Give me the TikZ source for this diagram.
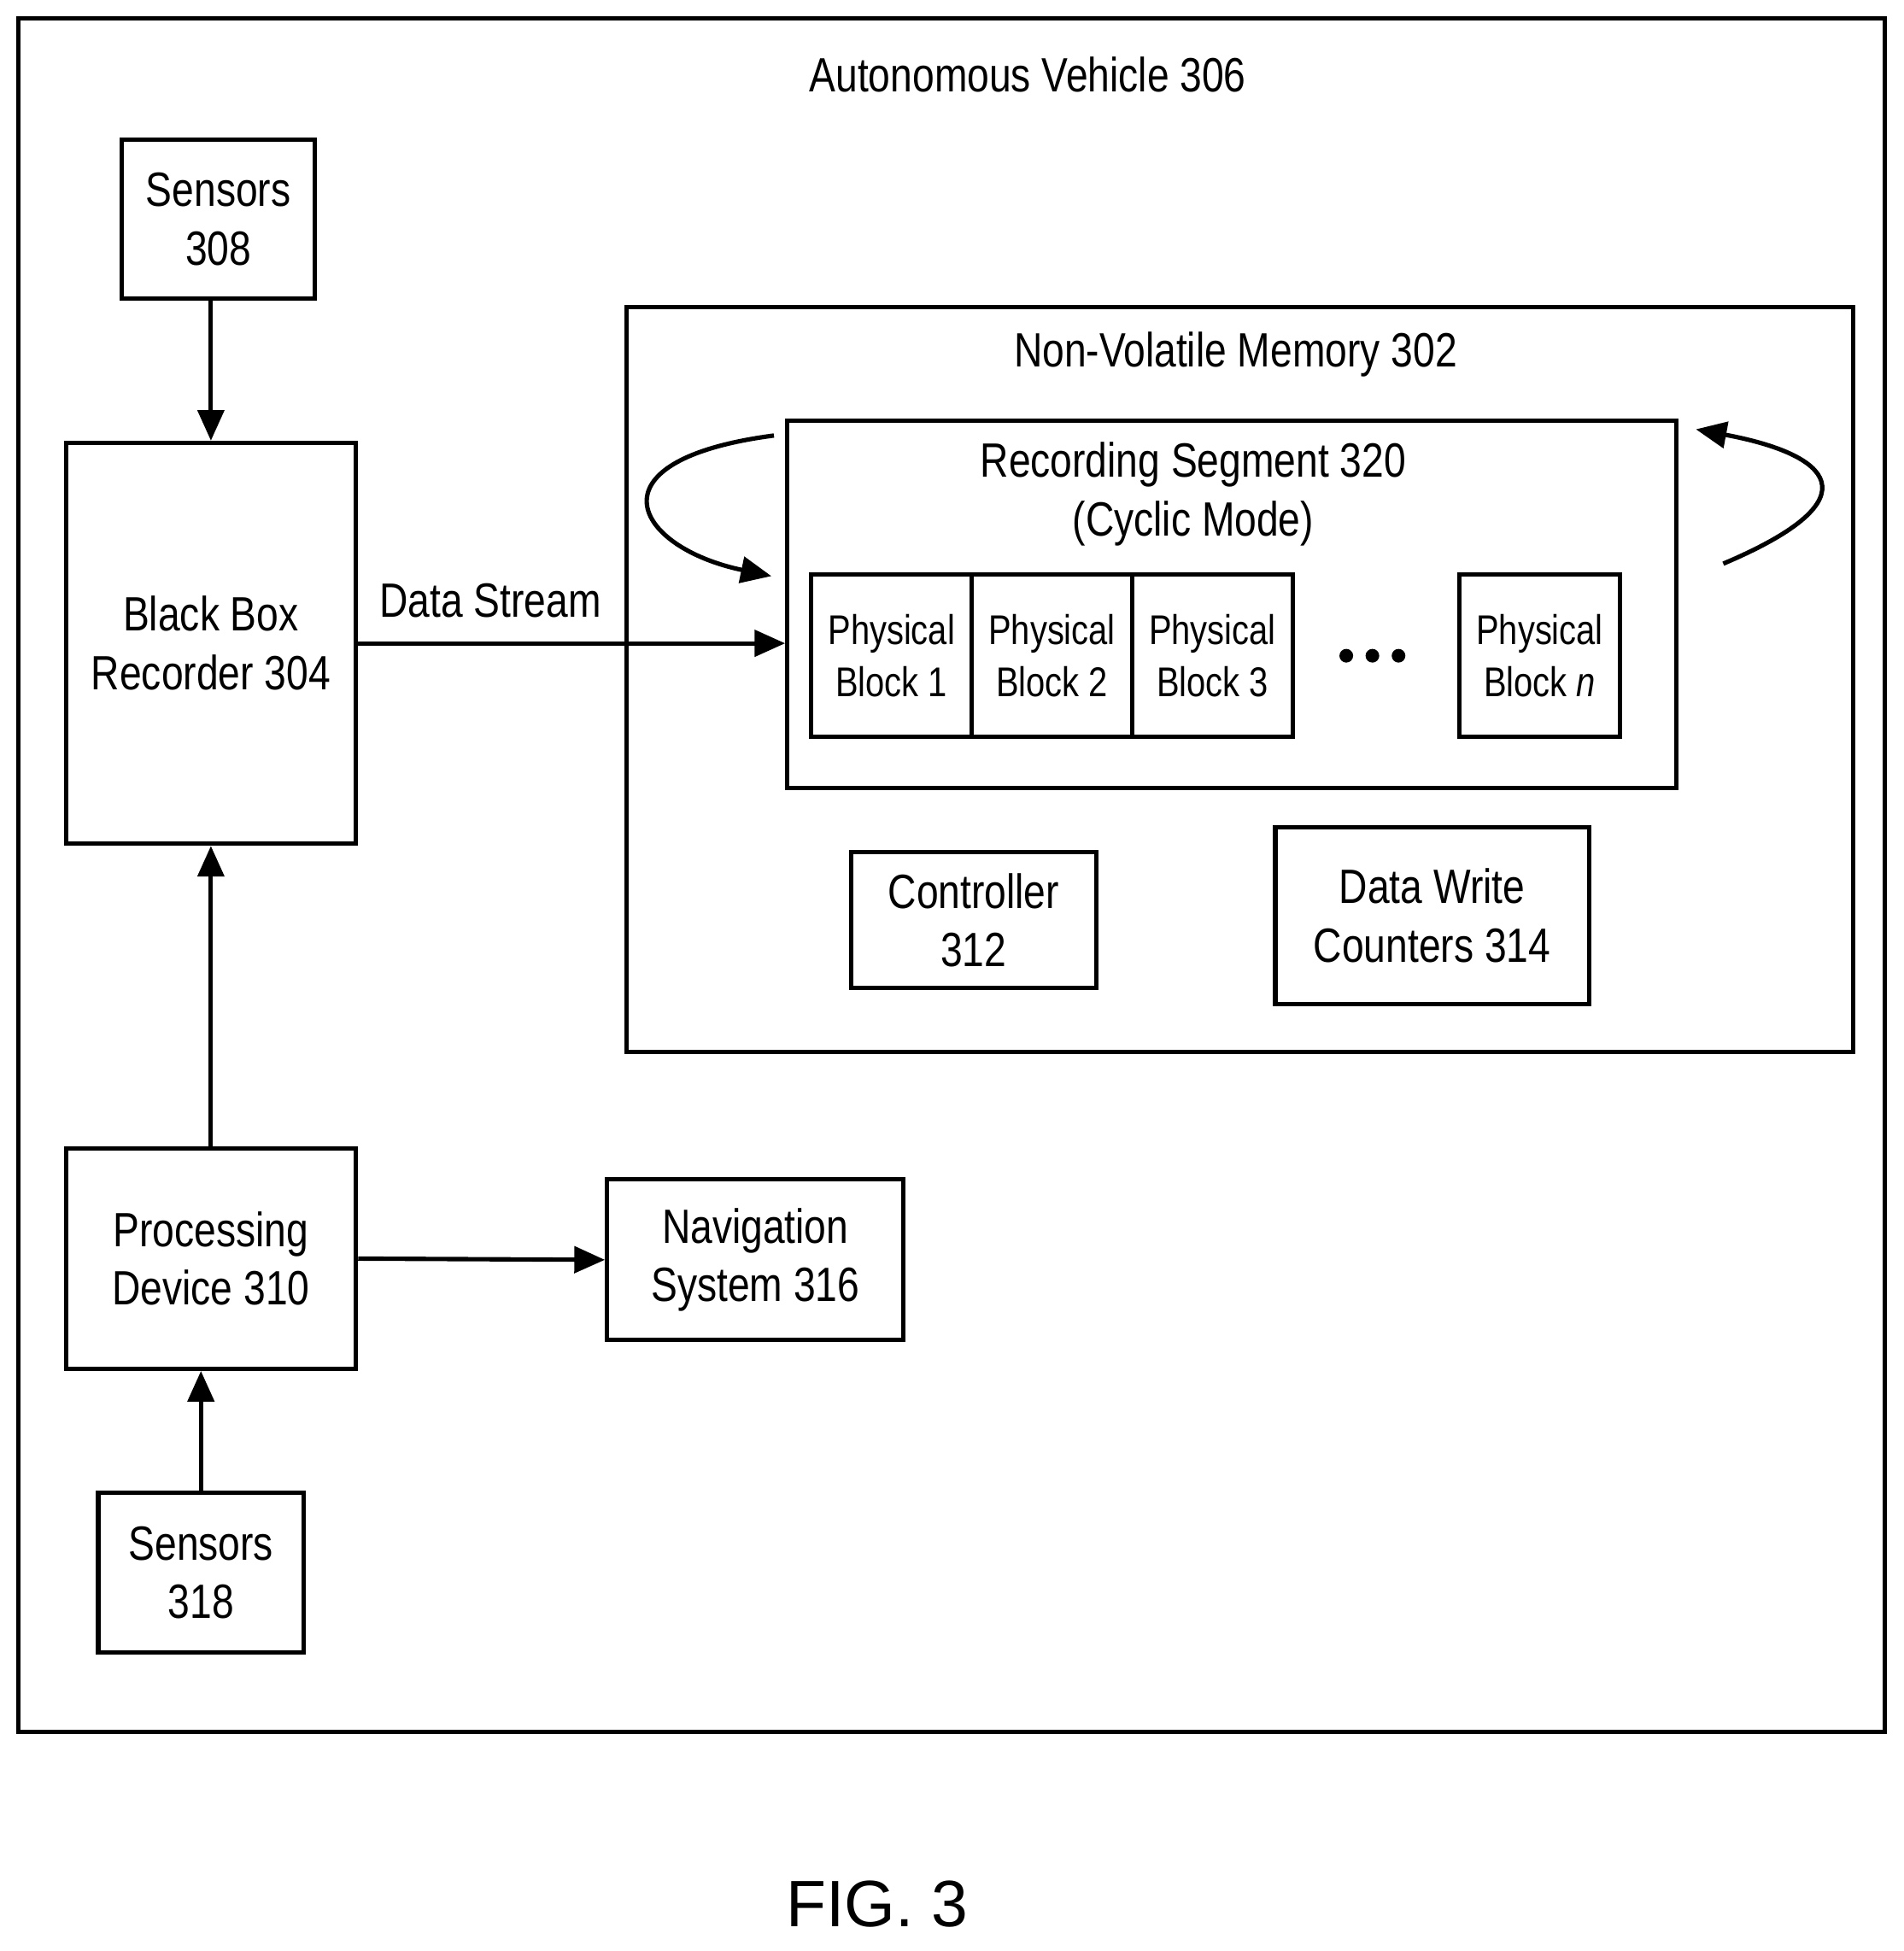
\documentclass[tikz,border=0pt]{standalone}
\usepackage{fontspec}
\setmainfont[FakeStretch=0.82]{Liberation Sans}
\newfontfamily\figfont{Liberation Sans}
\usetikzlibrary{arrows.meta}
\begin{document}
\begin{tikzpicture}[x=0.01cm,y=-0.01cm,line width=1pt,
  box/.style={draw,align=center,inner sep=0pt,font=\fontsize{11}{13.4}\selectfont},
  blk/.style={draw,align=center,inner sep=0pt,minimum width=1.29cm,minimum height=1.30cm,font=\fontsize{9.5}{12}\selectfont},
  arr/.style={-{Triangle[length=7pt,width=6pt]}}]
\useasboundingbox (0,0) rectangle (1530,1568);
\draw (15,15) rectangle (1515,1392);
\node[font=\fontsize{11}{13.4}\selectfont] (avtitle) at (826,60) {Autonomous Vehicle 306};
% left column
\node[box,minimum width=1.55cm,minimum height=1.28cm] (sens308) at (175.5,176) {Sensors\\308};
\node[box,minimum width=2.33cm,minimum height=3.22cm] (bbr) at (169.5,517) {Black Box\\Recorder 304};
\node[box,minimum width=2.33cm,minimum height=1.77cm] (proc) at (169.5,1011.5) {Processing\\Device 310};
\node[box,minimum width=1.65cm,minimum height=1.28cm] (sens318) at (161.5,1264) {Sensors\\318};
\node[box,minimum width=2.38cm,minimum height=1.29cm] (nav) at (607,1012.5) {Navigation\\System 316};
% memory
\node[box,minimum width=9.85cm,minimum height=5.98cm] (nvm) at (996.5,546) {};
\node[font=\fontsize{11}{13.4}\selectfont] (nvmtitle) at (993,285) {Non-Volatile Memory 302};
\node[box,minimum width=7.14cm,minimum height=2.95cm] (rec) at (990,485.5) {};
\node[align=center,font=\fontsize{11}{13.4}\selectfont] (rectitle) at (959,397) {Recording Segment 320\\(Cyclic Mode)};
\node[blk] (pb1) at (716.5,527) {Physical\\Block 1};
\node[blk] (pb2) at (845.5,527) {Physical\\Block 2};
\node[blk] (pb3) at (974.5,527) {Physical\\Block 3};
\node[blk] (pbn) at (1237.5,527) {Physical\\Block \textit{n}};
\foreach \xc in {1082,1103,1124} \fill (\xc,527) circle (5.5);
\node[box,minimum width=1.97cm,minimum height=1.09cm] (ctrl) at (782.5,739.5) {Controller\\312};
\node[box,minimum width=2.52cm,minimum height=1.42cm] (dwc) at (1151,736) {Data Write\\Counters 314};
% connectors
\draw[arr] (bbr.north |- sens308.south) to (bbr.north);
\draw[arr] (proc.north) to (bbr.south);
\draw[arr] (sens318.north) to (sens318.north |- proc.south);
\draw[arr] (proc.east) to (nav.west);
\draw[arr] (bbr.east) to node[pos=0.31,above=2pt,font=\fontsize{11}{13.4}\selectfont] {Data Stream} (rec.west |- bbr.east);
\coordinate (lstart) at (622,350);
\coordinate (lend) at (620,463);
\coordinate (rstart) at (1385,453);
\coordinate (rend) at (1363,345);
\draw[arr] (lstart) .. controls (470,370) and (510,440) .. (lend);
\draw[arr] (rstart) .. controls (1510,400) and (1470,365) .. (rend);
\node[font=\figfont\fontsize{15}{18}\selectfont] (fig) at (705,1530) {FIG. 3};
\end{tikzpicture}
\end{document}
